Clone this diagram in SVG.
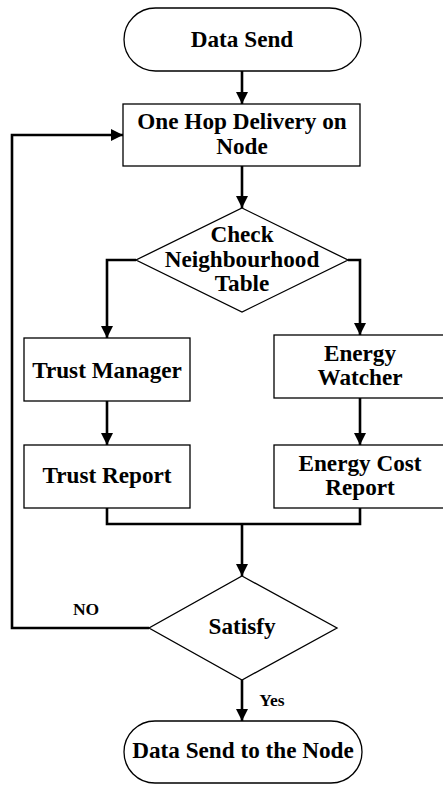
<svg xmlns="http://www.w3.org/2000/svg" width="443" height="785" viewBox="0 0 443 785">
<defs>
<marker id="ah" viewBox="0 0 12 12" refX="12" refY="6" markerWidth="12" markerHeight="12" markerUnits="userSpaceOnUse" orient="auto">
<path d="M0,0 L12,6 L0,12 Z" fill="#000"/>
</marker>
</defs>
<style>
.shape{fill:#fff;stroke:#000;stroke-width:1.3}
.t{font-family:"Liberation Serif","Times New Roman",serif;font-weight:bold;font-size:23.2px;text-anchor:middle;fill:#000}
.s{font-family:"Liberation Serif","Times New Roman",serif;font-weight:bold;font-size:17.5px;text-anchor:middle;fill:#000}
.c{fill:none;stroke:#000;stroke-width:2.6}
</style>
<rect width="443" height="785" fill="#fff"/>
<g id="connectors">
<path class="c" d="M242,71 V104" marker-end="url(#ah)"/>
<path class="c" d="M242,166 V208" marker-end="url(#ah)"/>
<path class="c" d="M136,260 H107 V338" marker-end="url(#ah)"/>
<path class="c" d="M348,260 H360 V335" marker-end="url(#ah)"/>
<path class="c" d="M107,401 V445" marker-end="url(#ah)"/>
<path class="c" d="M360,398 V445" marker-end="url(#ah)"/>
<path class="c" d="M107,508 V524 H360 V508"/>
<path class="c" d="M242,524 V576" marker-end="url(#ah)"/>
<path class="c" d="M149,628 H12 V135 H123" marker-end="url(#ah)"/>
<path class="c" d="M242,680 V721" marker-end="url(#ah)"/>
<text class="s" x="86" y="615">NO</text>
<text class="s" x="272" y="706">Yes</text>
</g>
<g id="start">
<rect class="shape" x="124" y="8" width="237" height="63" rx="31.5"/>
<text class="t" x="242" y="47">Data Send</text>
</g>
<g id="onehop">
<rect class="shape" x="123" y="104" width="237" height="62"/>
<text class="t" x="242" y="129">One Hop Delivery on</text>
<text class="t" x="242" y="154">Node</text>
</g>
<g id="check">
<polygon class="shape" points="242,208 348,260 242,312 136,260"/>
<text class="t" x="242" y="242">Check</text>
<text class="t" x="242" y="267">Neighbourhood</text>
<text class="t" x="242" y="291">Table</text>
</g>
<g id="trustmanager">
<rect class="shape" x="24" y="338" width="166" height="63"/>
<text class="t" x="107" y="378">Trust Manager</text>
</g>
<g id="energywatcher">
<rect class="shape" x="274" y="335" width="180" height="63"/>
<text class="t" x="360" y="361">Energy</text>
<text class="t" x="360" y="385">Watcher</text>
</g>
<g id="trustreport">
<rect class="shape" x="24" y="445" width="166" height="63"/>
<text class="t" x="107" y="483">Trust Report</text>
</g>
<g id="energycost">
<rect class="shape" x="274" y="445" width="180" height="63"/>
<text class="t" x="360" y="471">Energy Cost</text>
<text class="t" x="360" y="495">Report</text>
</g>
<g id="satisfy">
<polygon class="shape" points="242,576 337,628 242,680 149,628"/>
<text class="t" x="242" y="634">Satisfy</text>
</g>
<g id="end">
<rect class="shape" x="124" y="721" width="238" height="62" rx="31"/>
<text class="t" x="243" y="758">Data Send to the Node</text>
</g>
</svg>
